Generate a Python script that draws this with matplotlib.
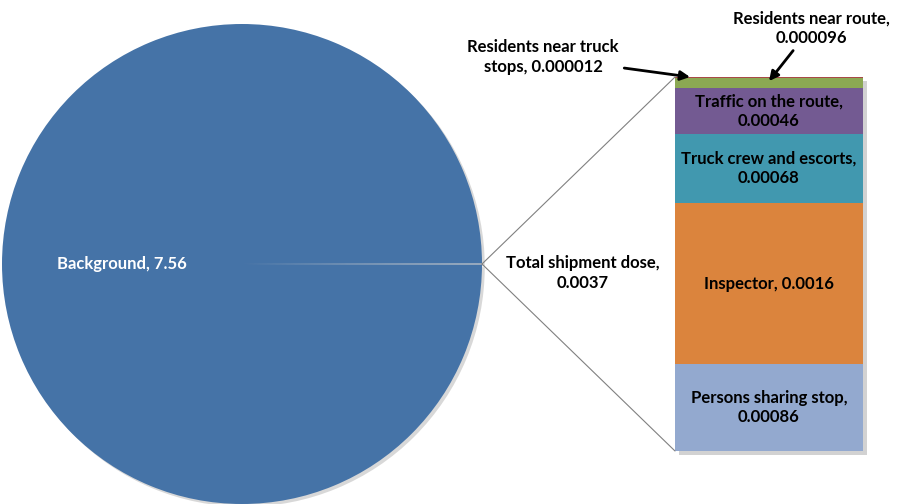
import matplotlib
matplotlib.use("Agg")
import matplotlib.pyplot as plt
import matplotlib.patheffects as pe
from matplotlib.patches import ConnectionPatch

plt.rcParams['font.family'] = ['Lato', 'DejaVu Sans']

# pie: background vs. the whole shipment
pie_labels = ['Background, 7.56', 'Total shipment dose,\n0.0037']
pie_values = [7.56, 0.0037]
pie_colors = ['#4573A7', '#C8C8C8']

# bar: breakdown of the shipment dose, bottom to top
bar_labels = ['Persons sharing stop,\n0.00086', 'Inspector, 0.0016',
              'Truck crew and escorts,\n0.00068', 'Traffic on the route,\n0.00046',
              'Residents near route,\n0.000096', 'Residents near truck\nstops, 0.000012']
bar_values = [0.00086, 0.0016, 0.00068, 0.00046, 0.000096, 0.000012]
bar_colors = ['#93A9CF', '#DB843D', '#4198AF', '#735A92', '#8BA853', '#A84A47']

W, H = 900, 504
FS = 12
fig = plt.figure(figsize=(W / 100, H / 100), dpi=100)
shadow = [pe.SimplePatchShadow(offset=(3, -3), shadow_rgbFace='#808080', alpha=0.35), pe.Normal()]

# pie on the left
ax_pie = fig.add_axes([2 / W, 0, 480 / W, 480 / H])
small_deg = pie_values[1] / sum(pie_values) * 360
wedges, texts = ax_pie.pie(pie_values, colors=pie_colors, radius=1,
                           startangle=small_deg / 2, labels=[pie_labels[0], ''],
                           labeldistance=0.5,
                           textprops=dict(color='white', fontsize=FS, fontweight='bold'))
texts[0].set_ha('center')
wedges[0].set_path_effects([pe.SimplePatchShadow(offset=(2, -2), shadow_rgbFace='#808080', alpha=0.3),
                            pe.Normal()])
ax_pie.set_xlim(-1, 1)
ax_pie.set_ylim(-1, 1)
ax_pie.axis('off')

# stacked bar on the right
ax_bar = fig.add_axes([675 / W, (H - 451) / H, 188 / W, 374 / H])
total = sum(bar_values)
# shadow behind the whole stack
ax_bar.bar(0, total, width=1, color='white', linewidth=0, clip_on=False, path_effects=shadow)
bottom = 0
bottoms = []
for v, c in zip(bar_values, bar_colors):
    ax_bar.bar(0, v, bottom=bottom, width=1, color=c, linewidth=0)
    bottoms.append(bottom)
    bottom += v
ax_bar.set_xlim(-0.5, 0.5)
ax_bar.set_ylim(0, total)
ax_bar.axis('off')

# labels inside the big segments
for lab, v, b in zip(bar_labels[:4], bar_values[:4], bottoms[:4]):
    ax_bar.text(0, b + v / 2, lab, ha='center', va='center', fontsize=FS,
                fontweight='bold', color='black', linespacing=1.25)

# small segments get call-outs with arrows
arrow = dict(arrowstyle='-|>', color='black', lw=2, mutation_scale=14, shrinkA=2, shrinkB=0)
ax_bar.annotate(bar_labels[5], xy=(-0.42, total), xycoords='data',
                xytext=(543 / W, 1 - 57 / H), textcoords='figure fraction',
                ha='center', va='center', fontsize=FS, fontweight='bold',
                linespacing=1.25, arrowprops=arrow)
ax_bar.annotate(bar_labels[4], xy=(0.0, bottoms[4] + bar_values[4] * 0.7), xycoords='data',
                xytext=(811 / W, 1 - 28 / H), textcoords='figure fraction',
                ha='center', va='center', fontsize=FS, fontweight='bold',
                linespacing=1.25, arrowprops=arrow)

# label for the small pie slice
fig.text(583 / W, 1 - 273 / H, pie_labels[1], ha='center', va='center',
         fontsize=FS, fontweight='bold', linespacing=1.25)

# connector lines pie -> bar
for yb in [total, 0]:
    con = ConnectionPatch(xyA=(1, 0), coordsA=ax_pie.transData,
                          xyB=(-0.5, yb), coordsB=ax_bar.transData,
                          color='#808080', lw=0.8)
    fig.add_artist(con)

fig.savefig('out.png', dpi=100)
